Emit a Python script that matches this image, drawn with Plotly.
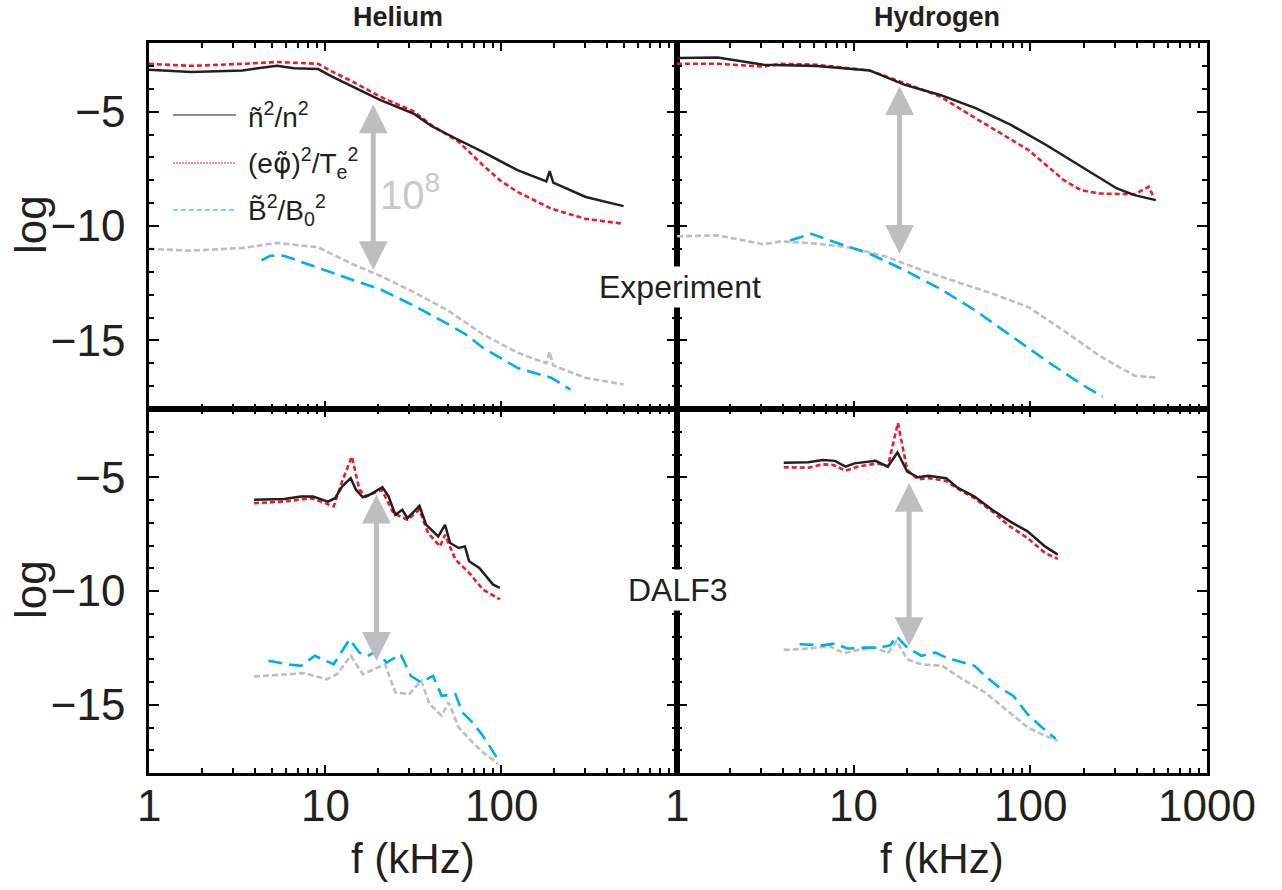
import numpy as np
import plotly.graph_objects as go

# ---------------- Helium, experiment ----------------
he_exp_f_n = [1.0, 1.74, 3.40, 5.33, 6.68, 9.14, 10.9, 14.3, 20.5, 32.1, 40.2, 57.5, 78.8, 124, 181, 189, 198, 303, 497]
he_exp_n = [-3.17, -3.27, -3.20, -2.99, -3.10, -3.14, -3.46, -3.90, -4.49, -5.10, -5.63, -6.24, -6.76, -7.56, -8.05, -7.60, -8.10, -8.73, -9.13]

he_exp_f_phi = [1.0, 1.74, 3.40, 5.33, 9.14, 10.9, 14.3, 20.5, 32.1, 40.2, 57.5, 78.8, 98.6, 124, 194, 303, 497]
he_exp_phi = [-2.91, -3.00, -2.91, -2.83, -2.91, -3.24, -3.68, -4.34, -5.00, -5.59, -6.32, -7.34, -8.00, -8.51, -9.25, -9.69, -9.90]

he_exp_f_ref = [1.0, 1.74, 3.40, 5.33, 9.14, 10.9, 14.3, 20.5, 32.1, 50.3, 78.8, 124, 181, 189, 198, 303, 497]
he_exp_ref = [-11.00, -11.08, -10.96, -10.74, -10.93, -11.22, -11.66, -12.17, -12.90, -13.71, -14.73, -15.54, -16.00, -15.50, -16.10, -16.64, -16.93]

he_exp_f_b = [4.36, 4.88, 5.83, 8.36, 13.1, 20.5, 32.1, 50.3, 63.0, 78.8, 124, 194, 248]
he_exp_b = [-11.50, -11.30, -11.30, -11.73, -12.25, -12.76, -13.49, -14.30, -14.74, -15.32, -16.20, -16.64, -17.15]

# ---------------- Hydrogen, experiment ----------------
hy_exp_f_n = [1.0, 1.70, 3.09, 6.17, 12.3, 19.5, 30.9, 49.0, 77.6, 123, 195, 309, 389, 513]
hy_exp_n = [-2.66, -2.63, -2.95, -3.00, -3.20, -3.83, -4.27, -4.85, -5.58, -6.46, -7.41, -8.36, -8.65, -8.87]

hy_exp_f_phi = [1.0, 1.70, 3.09, 3.89, 6.17, 12.3, 19.5, 30.9, 49.0, 77.6, 97.7, 123, 155, 195, 246, 309, 389, 468, 490, 513]
hy_exp_phi = [-2.91, -2.91, -3.03, -2.91, -2.95, -3.20, -3.76, -4.34, -5.29, -6.24, -6.68, -7.34, -8.00, -8.44, -8.58, -8.60, -8.61, -8.29, -8.60, -8.58]

hy_exp_f_ref = [1.0, 1.70, 3.09, 3.89, 6.17, 9.77, 15.5, 24.5, 38.9, 61.7, 97.7, 155, 246, 389, 513]
hy_exp_ref = [-10.45, -10.41, -10.80, -10.67, -10.77, -10.95, -11.36, -11.94, -12.46, -12.97, -13.55, -14.58, -15.67, -16.55, -16.62]

hy_exp_f_b = [4.37, 5.76, 7.76, 12.3, 19.5, 30.9, 49.0, 77.6, 123, 195, 257]
hy_exp_b = [-10.63, -10.34, -10.70, -11.21, -11.94, -12.75, -13.70, -14.80, -15.89, -16.92, -17.47]

# ---------------- Helium, DALF3 ----------------
he_sim_f_n = [3.95, 5.84, 7.31, 8.55, 10.4, 11.4, 12.5, 14.0, 15.0, 16.4, 17.9, 21.2, 23.0, 25.1, 27.5, 29.4,
              34.4, 37.6, 44.0, 48.1, 51.4, 57.5, 62.4, 65.9, 75.3, 82.4, 90.2, 98.6]
he_sim_n = [-5.99, -5.96, -5.85, -5.85, -6.07, -5.92, -5.41, -5.04, -5.55, -5.88, -5.77, -5.44, -5.85, -6.65, -6.43, -6.80,
            -6.26, -7.09, -7.60, -7.09, -7.89, -8.11, -8.04, -8.69, -8.99, -9.35, -9.72, -9.86]

he_sim_f_phi = [3.95, 5.84, 8.36, 10.0, 11.2, 12.5, 14.2, 15.7, 17.1, 21.0, 24.5, 29.4, 34.4, 38.5, 45.0, 48.1,
                55.1, 65.9, 78.8, 98.6]
he_sim_phi = [-6.14, -6.07, -5.92, -6.14, -6.28, -5.19, -4.09, -5.55, -5.85, -5.55, -6.58, -6.87, -6.43, -7.45, -8.04, -7.53,
              -8.62, -9.20, -9.93, -10.37]

he_sim_f_ref = [3.95, 7.64, 10.2, 11.7, 14.0, 16.4, 21.9, 25.1, 30.1, 35.2, 39.3, 46.0, 50.4, 57.5, 68.9, 78.8, 96.4]
he_sim_ref = [-13.76, -13.61, -13.88, -13.66, -12.85, -13.66, -13.22, -14.46, -14.53, -13.95, -14.97, -15.48, -14.90,
              -16.00, -16.65, -17.09, -17.60]

he_sim_f_b = [4.77, 6.11, 7.31, 8.75, 11.2, 13.8, 15.7, 17.5, 19.6, 22.4, 26.9, 30.7, 35.2, 41.1, 46.0, 55.1, 60.3,
              68.9, 78.8, 98.6]
he_sim_b = [-13.07, -13.22, -13.29, -12.85, -13.22, -12.12, -12.71, -12.85, -12.64, -13.15, -12.78, -13.73, -14.02,
            -13.73, -14.61, -14.53, -15.34, -15.77, -16.36, -17.53]

# ---------------- Hydrogen, DALF3 ----------------
hy_sim_f_n = [4.02, 5.55, 6.67, 7.83, 8.99, 10.1, 13.3, 15.6, 17.7, 20.1, 23.1, 26.5, 33.4, 38.4, 48.3, 60.8, 76.6,
              96.4, 121, 143]
hy_sim_n = [-4.36, -4.34, -4.24, -4.28, -4.53, -4.39, -4.28, -4.53, -3.91, -4.75, -5.00, -4.94, -5.04, -5.44, -5.85,
            -6.43, -6.94, -7.38, -8.04, -8.40]

hy_sim_f_phi = [4.02, 5.55, 6.67, 7.66, 8.99, 10.6, 13.6, 15.6, 17.8, 20.1, 23.1, 26.5, 33.4, 38.4, 48.3, 60.8, 76.6,
                96.4, 121, 143]
hy_sim_phi = [-4.56, -4.58, -4.43, -4.46, -4.71, -4.53, -4.39, -4.53, -2.61, -4.68, -5.09, -5.04, -5.16, -5.48, -5.92,
              -6.50, -7.16, -7.67, -8.33, -8.59]

hy_sim_f_ref = [4.02, 5.55, 7.31, 8.79, 10.6, 13.3, 15.6, 17.5, 20.1, 24.2, 31.9, 38.4, 46.1, 55.5, 66.7, 80.2, 96.4,
                121, 143]
hy_sim_ref = [-12.59, -12.53, -12.42, -12.74, -12.59, -12.49, -12.74, -12.20, -13.00, -13.22, -13.29, -13.73, -14.09,
              -14.46, -14.97, -15.48, -15.99, -16.36, -16.58]

hy_sim_f_b = [4.94, 6.67, 7.83, 9.20, 11.6, 13.9, 16.1, 17.5, 20.1, 24.2, 29.1, 33.4, 38.4, 48.3, 55.5, 66.7, 80.2,
              96.4, 116, 139]
hy_sim_b = [-12.34, -12.39, -12.31, -12.53, -12.49, -12.49, -12.39, -11.98, -12.49, -12.85, -12.71, -12.93, -13.07,
            -13.29, -13.73, -14.24, -14.61, -15.41, -15.99, -16.50]

# Double arrows marking the 10^8 gap: (frequency, upper tip, lower tip) per panel
gap_f = [18.8, 18.2, 19.6, 20.6]
gap_top = [-4.62, -3.83, -5.70, -5.19]
gap_bottom = [-11.92, -11.21, -13.07, -12.42]

x_ticks_left = [1, 10, 100]
x_ticks_right = [1, 10, 100, 1000]
y_ticks = [-15, -10, -5]

# ---------------- styling ----------------
W, H = 1282, 890
FONT = "Liberation Sans, Arial, sans-serif"
BLACK = "#231f20"
RED = "#ed1c24"
GRAY = "#bcbec0"
CYAN = "#00aeef"
ARROW = "#bcbec0"


def px(x):
    return x / W


def py(y):
    return 1 - y / H


fig = go.Figure()

panels = [
    ("x", "y", he_exp_f_n, he_exp_n, he_exp_f_phi, he_exp_phi, he_exp_f_ref, he_exp_ref, he_exp_f_b, he_exp_b),
    ("x2", "y2", hy_exp_f_n, hy_exp_n, hy_exp_f_phi, hy_exp_phi, hy_exp_f_ref, hy_exp_ref, hy_exp_f_b, hy_exp_b),
    ("x3", "y3", he_sim_f_n, he_sim_n, he_sim_f_phi, he_sim_phi, he_sim_f_ref, he_sim_ref, he_sim_f_b, he_sim_b),
    ("x4", "y4", hy_sim_f_n, hy_sim_n, hy_sim_f_phi, hy_sim_phi, hy_sim_f_ref, hy_sim_ref, hy_sim_f_b, hy_sim_b),
]

for xr, yr, fn, n, fphi, phi, fref, ref, fb, b in panels:
    fig.add_trace(go.Scatter(x=fref, y=ref, xaxis=xr, yaxis=yr, mode="lines",
                             line=dict(color=GRAY, width=2.6, dash="6px,3px"), showlegend=False))
    fig.add_trace(go.Scatter(x=fb, y=b, xaxis=xr, yaxis=yr, mode="lines",
                             line=dict(color=CYAN, width=2.6, dash="14px,7px"), showlegend=False))
    fig.add_trace(go.Scatter(x=fphi, y=phi, xaxis=xr, yaxis=yr, mode="lines",
                             line=dict(color=RED, width=2.6, dash="5px,3px"), showlegend=False))
    fig.add_trace(go.Scatter(x=fn, y=n, xaxis=xr, yaxis=yr, mode="lines",
                             line=dict(color=BLACK, width=2.5), showlegend=False))

minor_x = [m * 10 ** k for k in range(3) for m in range(2, 10)]


def xaxis(domain, tickvals, anchor):
    return dict(
        type="log", range=[0, 3], domain=domain, anchor=anchor, automargin=False,
        tickvals=tickvals, showticklabels=False,
        ticks="inside", ticklen=8, tickwidth=2, tickcolor="black",
        minor=dict(tickvals=minor_x, ticks="inside", ticklen=5, tickwidth=1.6, tickcolor="black"),
        showline=True, linewidth=2.5, linecolor="black", mirror="allticks",
        showgrid=False, zeroline=False,
    )


def yaxis(domain, show_labels, anchor):
    return dict(
        range=[-18, -2], domain=domain, anchor=anchor, automargin=False,
        tickvals=y_ticks, showticklabels=show_labels,
        ticks="inside", ticklen=10, tickwidth=2, tickcolor="black",
        minor=dict(dtick=1, tick0=0, ticks="inside", ticklen=5, tickwidth=1.6, tickcolor="black"),
        showline=True, linewidth=2.5, linecolor="black", mirror="allticks",
        showgrid=False, zeroline=False,
        tickfont=dict(family=FONT, size=44, color=BLACK), ticklabelstandoff=12,
    )


XL = [px(149), px(677)]
XR = [px(677), px(1207)]
YT = [py(409), py(43)]
YB = [py(773), py(409)]

fig.update_layout(
    width=W, height=H,
    margin=dict(l=0, r=0, t=0, b=0, autoexpand=False),
    paper_bgcolor="white", plot_bgcolor="white",
    showlegend=False,
    xaxis=xaxis(XL, x_ticks_left, "y"),
    yaxis=yaxis(YT, True, "x"),
    xaxis2=xaxis(XR, x_ticks_right, "y2"),
    yaxis2=yaxis(YT, False, "x2"),
    xaxis3=xaxis(XL, x_ticks_left, "y3"),
    yaxis3=yaxis(YB, True, "x3"),
    xaxis4=xaxis(XR, x_ticks_right, "y4"),
    yaxis4=yaxis(YB, False, "x4"),
)

annotations = []


def note(x, y, text, size, color=BLACK, xanchor="center", yanchor="middle", **kw):
    annotations.append(dict(xref="paper", yref="paper", x=px(x), y=py(y), text=text, showarrow=False,
                            xanchor=xanchor, yanchor=yanchor,
                            font=dict(family=FONT, size=size, color=color), **kw))


# frequency tick labels under the lower panels
for xr, vals in (("x3", x_ticks_left), ("x4", x_ticks_right)):
    for v in vals:
        annotations.append(dict(xref=xr, yref="paper", x=float(np.log10(v)), y=py(805), text=str(v),
                                showarrow=False, xanchor="center", yanchor="middle",
                                font=dict(family=FONT, size=44, color=BLACK)))

# gap arrows
for (xr, yr), f, top, bot in zip([("x", "y"), ("x2", "y2"), ("x3", "y3"), ("x4", "y4")], gap_f, gap_top, gap_bottom):
    lx = float(np.log10(f))
    annotations.append(dict(
        xref=xr, yref=yr, axref=xr, ayref=yr, x=lx, y=bot, ax=lx, ay=top, text="",
        showarrow=True, arrowside="end+start", arrowhead=2, startarrowhead=2,
        arrowsize=1.15, startarrowsize=1.15, arrowwidth=5, arrowcolor=ARROW,
        standoff=0, startstandoff=0,
    ))

note(378, 192, "10<sup>8</sup>", 40, color="#c7c8ca", xanchor="left")

# panel titles
note(398, 17, "<b>Helium</b>", 27)
note(937, 17, "<b>Hydrogen</b>", 27)

# row labels sitting on the divider
note(680, 287, "Experiment", 32, bgcolor="white", borderpad=2)
note(678, 590, "DALF3", 32, bgcolor="white", borderpad=2)

# axis titles
for yc in (225, 590):
    note(30, yc, "log", 44, textangle=-90)
for xc in (413, 942):
    note(xc, 858, "f (kHz)", 42)

# legend entries
PHI = '<span style="font-family:DejaVu Sans">φ̃</span>'
legend_rows = [
    (115, BLACK, "solid", "ñ<sup>2</sup>/n<sup>2</sup>"),
    (163, RED, "2px,1px", "(e" + PHI + ")<sup>2</sup>/T<sub>e</sub><sup>2</sup>"),
    (210, CYAN, "5px,3px", "B̃<sup>2</sup>/B<sub>0</sub><sup>2</sup>"),
]
shapes = []
for yl, col, dash, label in legend_rows:
    shapes.append(dict(type="line", xref="paper", yref="paper", x0=px(173), x1=px(236), y0=py(yl), y1=py(yl),
                       line=dict(color=col, width=1.2, dash=dash)))
    note(246, yl, label, 28, xanchor="left")

fig.update_layout(annotations=annotations, shapes=shapes)

fig.write_html("out.html")
